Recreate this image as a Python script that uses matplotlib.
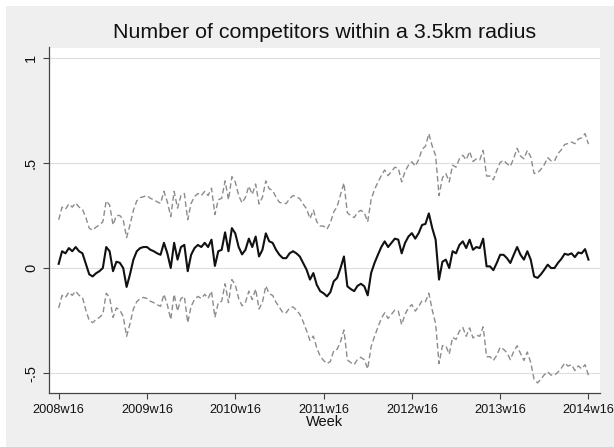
import numpy as np
import matplotlib
matplotlib.use("Agg")
import matplotlib.pyplot as plt
from matplotlib.patches import Rectangle

plt.rcParams['font.family'] = ['Liberation Sans', 'DejaVu Sans']

# Week index (0 = 2008w16), sampled every second week
week = np.arange(0, 313, 2)

# Estimated effect (solid line)
estimate = [
    0.02, 0.08, 0.07, 0.095, 0.08, 0.10, 0.08, 0.07, 0.02, -0.03,
    -0.04, -0.025, -0.015, 0.0, 0.10, 0.08, -0.015, 0.03, 0.025, 0.0,
    -0.09, -0.03, 0.04, 0.08, 0.095, 0.10, 0.10, 0.087, 0.08, 0.07,
    0.063, 0.12, 0.07, 0.0, 0.12, 0.04, 0.10, 0.11, -0.015, 0.063,
    0.095, 0.11, 0.10, 0.12, 0.10, 0.135, 0.01, 0.08, 0.087, 0.17,
    0.08, 0.19, 0.165, 0.10, 0.065, 0.087, 0.14, 0.10, 0.15, 0.055,
    0.087, 0.165, 0.127, 0.12, 0.087, 0.063, 0.047, 0.047, 0.07, 0.08,
    0.07, 0.055, 0.024, -0.008, -0.055, -0.024, -0.08, -0.11, -0.12, -0.135,
    -0.115, -0.063, -0.047, 0.0, 0.055, -0.087, -0.10, -0.11, -0.085, -0.075,
    -0.087, -0.13, -0.024, 0.024, 0.063, 0.10, 0.127, 0.10, 0.12, 0.14,
    0.135, 0.07, 0.12, 0.15, 0.166, 0.14, 0.166, 0.205, 0.21, 0.26,
    0.19, 0.135, -0.055, 0.03, 0.04, 0.0, 0.08, 0.07, 0.11, 0.127,
    0.095, 0.135, 0.087, 0.10, 0.095, 0.14, 0.008, 0.008, -0.01, 0.024,
    0.063, 0.063, 0.047, 0.024, 0.063, 0.10, 0.063, 0.04, 0.08, 0.04,
    -0.04, -0.047, -0.03, -0.008, 0.016, 0.0, 0.0, 0.024, 0.043, 0.068,
    0.063, 0.07, 0.052, 0.074, 0.07, 0.09, 0.04,
]

# Half-width of the confidence band (dashed lines)
half_width = [
    0.21, 0.21, 0.21, 0.21, 0.21, 0.21, 0.21, 0.21,
    0.22, 0.22, 0.22, 0.22, 0.22, 0.22, 0.22, 0.22, 0.22, 0.22, 0.225, 0.23,
    0.235, 0.235, 0.235, 0.24, 0.24, 0.24,
    0.245, 0.245, 0.245, 0.245, 0.245, 0.245, 0.245, 0.245, 0.245, 0.245,
    0.245, 0.245, 0.245, 0.245, 0.245, 0.245, 0.245, 0.245, 0.245, 0.245,
    0.245, 0.245, 0.245, 0.245, 0.245, 0.245, 0.245, 0.245, 0.245,
    0.25, 0.25, 0.25, 0.25, 0.25, 0.25, 0.25, 0.25, 0.25, 0.25, 0.25,
    0.26, 0.26, 0.26, 0.265, 0.27, 0.275, 0.28,
    0.29, 0.29, 0.30, 0.30, 0.31,
    0.32, 0.32, 0.33, 0.33, 0.34,
    0.35, 0.35, 0.35, 0.35, 0.35, 0.35, 0.35, 0.35, 0.35,
    0.35, 0.35, 0.345, 0.34, 0.34, 0.34, 0.34, 0.34, 0.34, 0.34, 0.34, 0.34, 0.34, 0.345,
    0.35, 0.36, 0.37,
    0.38, 0.39, 0.40,
    0.40, 0.40, 0.41, 0.41, 0.41, 0.41, 0.41, 0.41, 0.42, 0.42, 0.42, 0.42, 0.42, 0.42,
    0.43, 0.43, 0.43, 0.44, 0.44, 0.45, 0.45, 0.46, 0.46, 0.47,
    0.47, 0.48, 0.48, 0.49, 0.49, 0.50, 0.50, 0.50, 0.51, 0.51,
    0.51, 0.52, 0.52, 0.52, 0.53, 0.53, 0.54, 0.54, 0.55, 0.55, 0.55,
]

tick_weeks = [0, 52, 104, 156, 208, 260, 312]
tick_labels = ["2008w16", "2009w16", "2010w16", "2011w16",
               "2012w16", "2013w16", "2014w16"]
y_ticks = [-0.5, 0, 0.5, 1]
y_labels = ["-.5", "0", ".5", "1"]

est = np.array(estimate)
hw = np.array(half_width)
upper = est + hw
lower = est - hw

W, H = 614, 447
fig = plt.figure(figsize=(W / 100, H / 100), dpi=100, facecolor="white")
fig.patches.append(Rectangle((6 / W, 0), 1, 1 - 6 / H, transform=fig.transFigure,
                             facecolor="#efefef", edgecolor="none", zorder=-10))

left, right, top, bottom = 49, 600, 47.5, 393
ax = fig.add_axes([left / W, 1 - bottom / H, (right - left) / W, (bottom - top) / H])
ax.set_facecolor("white")
ax.set_zorder(1)

ax.plot(week, upper, color="#8c8c8c", lw=1.0, dashes=(4, 2.2), zorder=3)
ax.plot(week, lower, color="#8c8c8c", lw=1.0, dashes=(4, 2.2), zorder=3)
ax.plot(week, est, color="#111111", lw=1.5, zorder=4)

ax.set_xlim(-5.7, 318.8)
ax.set_ylim(-0.595, 1.05)

ax.set_yticks(y_ticks)
ax.set_yticklabels(y_labels, rotation=90, va="center", fontsize=10.5)
ax.set_xticks(tick_weeks)
ax.set_xticklabels(tick_labels, fontsize=9.2)
for v in y_ticks:
    ax.axhline(v, color="#dedede", lw=0.8, zorder=1)

for s in ("top", "right"):
    ax.spines[s].set_visible(False)
for s in ("left", "bottom"):
    ax.spines[s].set_color("#444444")
    ax.spines[s].set_linewidth(0.9)
ax.tick_params(axis="both", colors="#444444", length=4, width=0.8, labelcolor="#111111")
ax.tick_params(axis="y", pad=4)
ax.tick_params(axis="x", pad=4)

ax.set_xlabel("Week", fontsize=10.5, labelpad=-1, color="#111111")
fig.text((left + right) / 2 / W, 1 - 33 / H, "Number of competitors within a 3.5km radius",
         ha="center", va="center", fontsize=15.4, color="#111111", zorder=5)

fig.savefig("out.png", dpi=100, facecolor=fig.get_facecolor())
